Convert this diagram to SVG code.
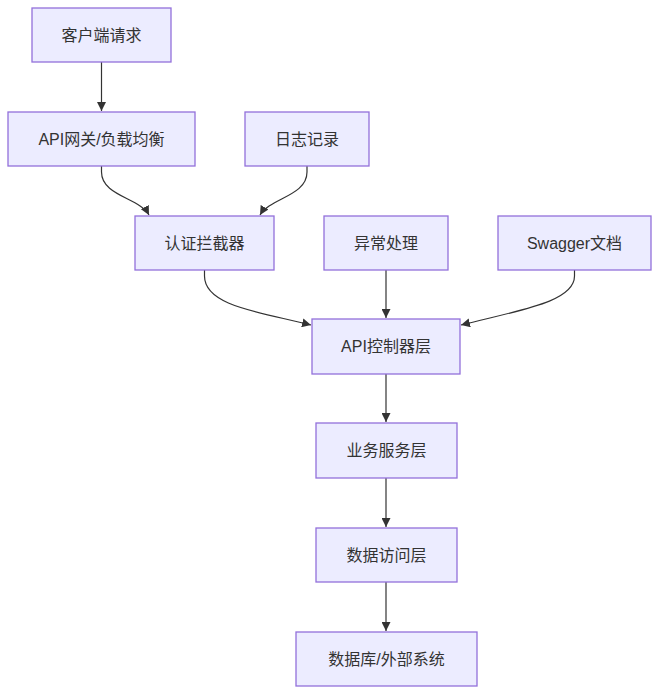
<svg xmlns="http://www.w3.org/2000/svg" width="658" height="694" viewBox="0 0 658 694">
<defs>
<style>
.node rect{fill:#ECECFF;stroke:#9370DB;stroke-width:1.3}
.node text{font-family:"Liberation Sans","Noto Sans CJK SC",sans-serif;font-size:16px;fill:#333333;text-anchor:middle;dominant-baseline:central}
.edges path{fill:none;stroke:#333333;stroke-width:1.2;marker-end:url(#arrow)}
</style>
<marker id="arrow" viewBox="0 0 10 10" refX="10" refY="5" markerUnits="userSpaceOnUse" markerWidth="9" markerHeight="9" orient="auto">
<path d="M0,0 L10,5 L0,10 z" fill="#333333"/>
</marker>
</defs>
<rect width="658" height="694" fill="#ffffff"/>
<g class="edges">
<path d="M101.5,62 L101.5,111"/>
<path d="M101.5,166 L101.5,172 C101.5,196 140,198 149,215"/>
<path d="M307,166 L307,172 C307,196 270,198 260,215"/>
<path d="M204.5,270 L204.5,276 C204.5,306 260,312 311,325"/>
<path d="M386,270 L386,318"/>
<path d="M574.5,270 L574.5,276 C574.5,302 520,310 461,325"/>
<path d="M386,374 L386,422"/>
<path d="M386,478 L386,527"/>
<path d="M386,582 L386,631"/>
</g>
<g id="n1" class="node"><rect x="32" y="8" width="139" height="54"/><text x="101.5" y="35">客户端请求</text></g>
<g id="n2" class="node"><rect x="8" y="112" width="187" height="54"/><text x="101.5" y="139">API网关/负载均衡</text></g>
<g id="n3" class="node"><rect x="245" y="112" width="124" height="54"/><text x="307" y="139">日志记录</text></g>
<g id="n4" class="node"><rect x="135" y="216" width="139" height="54"/><text x="204.5" y="243">认证拦截器</text></g>
<g id="n5" class="node"><rect x="324" y="216" width="124" height="54"/><text x="386" y="243">异常处理</text></g>
<g id="n6" class="node"><rect x="498" y="216" width="153" height="54"/><text x="574.5" y="243">Swagger文档</text></g>
<g id="n7" class="node"><rect x="312" y="319" width="148" height="55"/><text x="386" y="346.5">API控制器层</text></g>
<g id="n8" class="node"><rect x="316" y="423" width="141" height="55"/><text x="386.5" y="450.5">业务服务层</text></g>
<g id="n9" class="node"><rect x="316" y="528" width="141" height="54"/><text x="386.5" y="555">数据访问层</text></g>
<g id="n10" class="node"><rect x="296" y="632" width="181" height="54"/><text x="386.5" y="659">数据库/外部系统</text></g>
</svg>
